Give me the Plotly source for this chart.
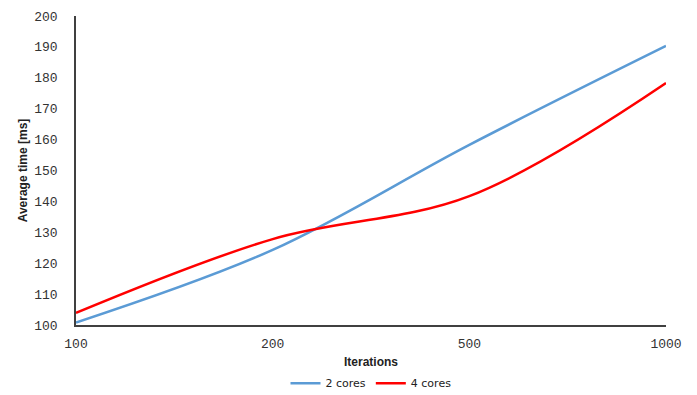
import plotly.graph_objects as go

# Iteration counts (categorical x axis) and average run times in ms
iterations = ["100", "200", "500", "1000"]
time_2_cores = [100.8, 124.3, 158.3, 190.3]
time_4_cores = [103.9, 127.8, 141.7, 178.3]

y_ticks = [100, 110, 120, 130, 140, 150, 160, 170, 180, 190, 200]

fig = go.Figure()
fig.add_trace(go.Scatter(
    x=iterations, y=time_2_cores, name="2 cores", mode="lines",
    line=dict(color="#5B9BD5", width=2.5, shape="spline", smoothing=1.0),
))
fig.add_trace(go.Scatter(
    x=iterations, y=time_4_cores, name="4 cores", mode="lines",
    line=dict(color="#FF0000", width=2.5, shape="spline", smoothing=1.0),
))

tick_font = dict(family="Liberation Mono, Courier New, monospace", size=13, color="#333333")
title_font = dict(family="Liberation Sans, Arial, sans-serif", size=12, color="#222222")

fig.update_layout(
    width=697, height=395,
    margin=dict(l=76, r=31, t=16, b=70, autoexpand=False),
    paper_bgcolor="white", plot_bgcolor="white",
    showlegend=True,
    legend=dict(
        orientation="h", x=0.5, xanchor="center",
        yref="container", y=0.03, yanchor="middle",
        font=dict(family="DejaVu Sans, Verdana, sans-serif", size=11, color="#222222"),
        itemwidth=30, tracegroupgap=0,
    ),
    xaxis=dict(
        type="category", range=[0, 3],
        showgrid=False, zeroline=False,
        showline=True, linecolor="#404040", linewidth=1.5,
        ticks="", tickfont=tick_font, ticklabelstandoff=6,
        title=dict(text="<b>Iterations</b>", font=title_font, standoff=17),
    ),
    yaxis=dict(
        range=[100, 200], tickvals=y_ticks,
        showgrid=False, zeroline=False,
        showline=True, linecolor="#404040", linewidth=1.5,
        ticks="", tickfont=tick_font, ticklabelstandoff=14,
        title=dict(text="<b>Average time [ms]</b>", font=title_font, standoff=4),
    ),
)

fig.write_html("out.html")
